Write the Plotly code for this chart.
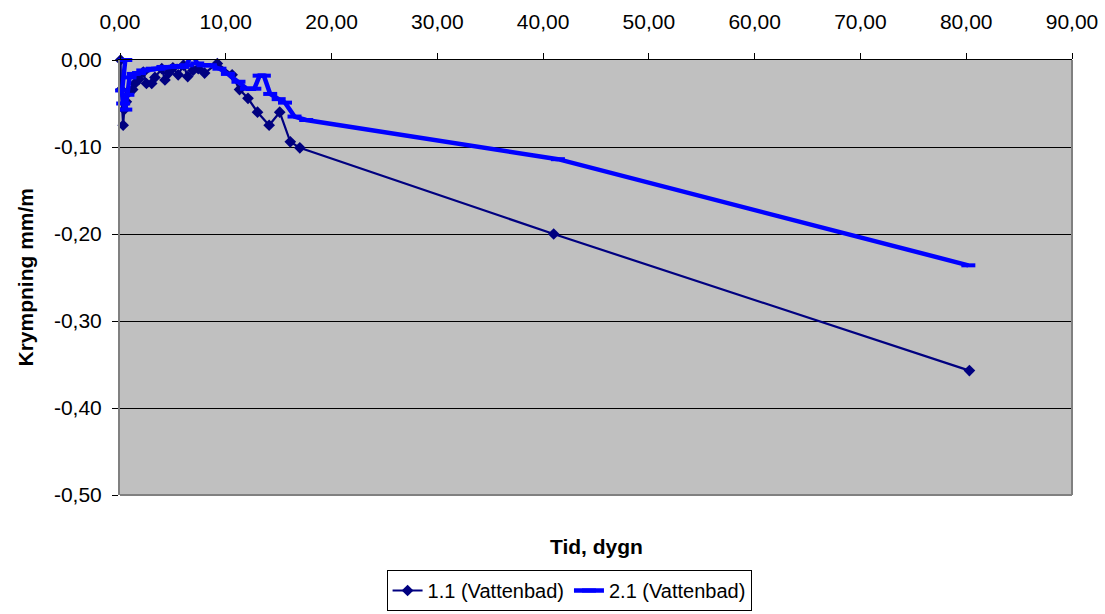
import plotly.graph_objects as go

# Series 1.1 (Vattenbad)
x1 = [0.05, 0.1, 0.3, 0.4, 0.6, 0.9, 1.2, 1.4, 1.8, 2.2, 2.5, 3.0, 3.3, 3.95, 4.25, 4.6, 5.0, 5.5,
      6.0, 6.4, 6.9, 7.4, 8.0, 9.2, 10.6, 11.3, 12.1, 13.0, 14.1, 15.1, 16.1, 17.0, 41.0, 80.3]
y1 = [0.0, -0.034, -0.075, -0.057, -0.048, -0.036, -0.034, -0.027, -0.022, -0.014, -0.027, -0.027,
      -0.020, -0.010, -0.023, -0.015, -0.009, -0.017, -0.006, -0.019, -0.012, -0.010, -0.015, -0.004,
      -0.017, -0.034, -0.044, -0.060, -0.075, -0.060, -0.094, -0.101, -0.200, -0.357]

# Series 2.1 (Vattenbad)
x2 = [0.5, 0.2, 0.3, 0.5, 0.7, 0.9, 1.3, 1.8, 2.2, 2.7, 3.1, 3.6, 4.1, 4.7, 5.4, 5.9, 6.3, 6.8,
      7.3, 7.9, 8.5, 9.4, 10.2, 11.2, 12.0, 12.7, 13.2, 13.6, 14.2, 15.0, 15.6, 16.5, 17.6, 41.4, 80.2]
y2 = [0.0, -0.035, -0.050, -0.057, -0.040, -0.020, -0.016, -0.015, -0.012, -0.011, -0.010, -0.010,
      -0.008, -0.008, -0.007, -0.008, -0.006, 0.009, -0.004, -0.006, -0.006, -0.010, -0.016, -0.025,
      -0.033, -0.033, -0.018, -0.018, -0.039, -0.045, -0.049, -0.065, -0.069, -0.114, -0.236]

names = ["1.1 (Vattenbad)", "2.1 (Vattenbad)"]
x_ticks = [0, 10, 20, 30, 40, 50, 60, 70, 80, 90]
y_ticks = [0.0, -0.1, -0.2, -0.3, -0.4, -0.5]


def fmt(v):
    return f"{v:.2f}".replace(".", ",")


FONT = "Liberation Sans, Arial, sans-serif"
FS = 21

fig = go.Figure()
fig.add_trace(go.Scatter(
    x=x1, y=y1, name=names[0], mode="lines+markers",
    line=dict(color="#000080", width=2.2),
    marker=dict(symbol="diamond", size=9, color="#000080"),
    cliponaxis=False,
))
fig.add_trace(go.Scatter(
    x=x2, y=y2, name=names[1], mode="lines+markers",
    line=dict(color="#0000FF", width=4.5),
    marker=dict(symbol="line-ew", size=10, line=dict(color="#0000FF", width=4)),
    cliponaxis=False,
))

fig.update_layout(
    width=1105, height=614,
    margin=dict(l=120, r=33, t=60, b=119, autoexpand=False),
    paper_bgcolor="white",
    plot_bgcolor="#C0C0C0",
    font=dict(family=FONT, size=FS, color="black"),
    showlegend=True,
    legend=dict(
        orientation="h", xref="container", yref="container",
        x=0.515, xanchor="center", y=3 / 614, yanchor="bottom",
        bordercolor="black", borderwidth=1, bgcolor="white",
        font=dict(size=20), tracegroupgap=0,
    ),
    xaxis=dict(
        side="top", range=[0, 90], tickvals=x_ticks, ticktext=[fmt(v) for v in x_ticks],
        ticks="outside", ticklen=6, tickcolor="black", showgrid=False,
        ticklabelstandoff=16,
        showline=True, linecolor="black", linewidth=1, zeroline=False,
    ),
    yaxis=dict(
        range=[-0.5, 0], tickvals=y_ticks, ticktext=[fmt(v) for v in y_ticks],
        ticks="outside", ticklen=6, tickcolor="black",
        ticklabelstandoff=6,
        showgrid=True, gridcolor="black", gridwidth=1,
        showline=True, linecolor="#808080", linewidth=2, zeroline=False,
    ),
    shapes=[
        dict(type="line", xref="paper", yref="paper", x0=1, x1=1, y0=0, y1=1,
             line=dict(color="#808080", width=2)),
        dict(type="line", xref="paper", yref="paper", x0=0, x1=1, y0=0, y1=0,
             line=dict(color="#808080", width=2)),
    ],
    annotations=[
        dict(text="<b>Tid, dygn</b>", xref="paper", yref="paper", x=0.5, y=0,
             yshift=-51, yanchor="middle", xanchor="center", showarrow=False,
             font=dict(size=FS)),
        dict(text="<b>Krympning mm/m</b>", xref="paper", yref="paper", x=0, y=0.5,
             xshift=-95, xanchor="center", yanchor="middle", textangle=-90,
             showarrow=False, font=dict(size=FS)),
    ],
)

fig.write_html("out.html")
